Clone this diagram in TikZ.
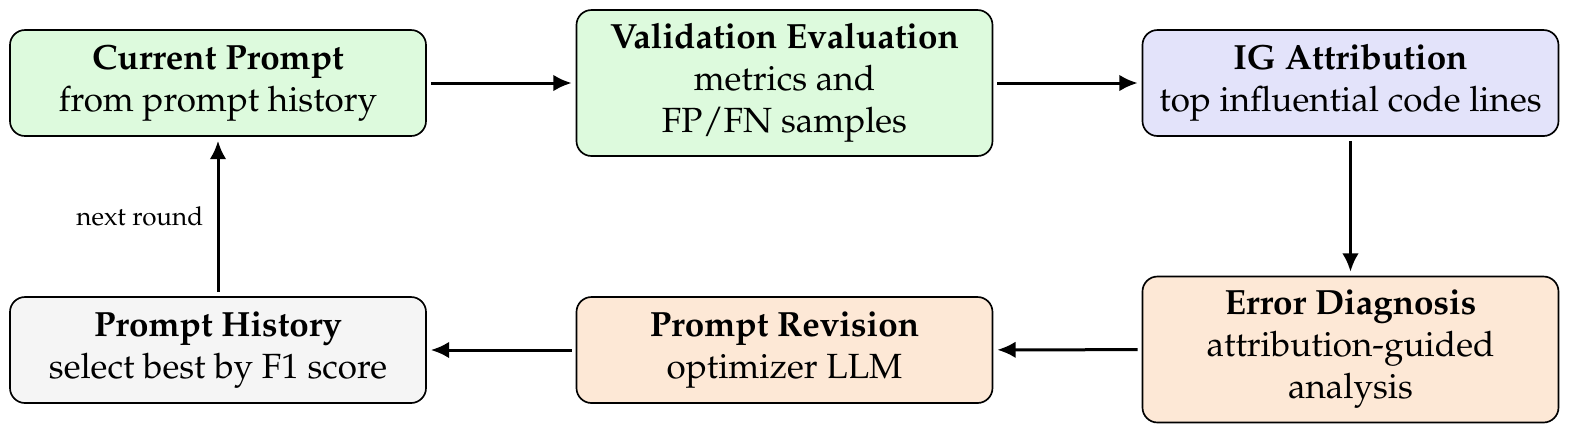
\documentclass[tikz,border=0pt]{standalone}
\usepackage[T1]{fontenc}
\usepackage{mathpazo}
\usetikzlibrary{arrows.meta}
\definecolor{cgreen}{HTML}{DDFADD}
\definecolor{cblue}{HTML}{E3E3FA}
\definecolor{corange}{HTML}{FDE8D6}
\definecolor{cgray}{HTML}{F5F5F5}
\tikzset{
  stage/.style={draw=black, line width=0.5pt, rounded corners=4.5pt, align=center,
    minimum width=124.8pt, inner sep=2pt, font=\fontsize{10.5}{12.6}\selectfont},
  flow/.style={line width=0.9pt, -{Latex[length=5.5pt,width=5pt]}, shorten >=1.2pt, shorten <=1.2pt},
}
\begin{document}
\begin{tikzpicture}[x=0.3pt,y=-0.3pt]
\useasboundingbox (0,0) rectangle (1570,433);
\node[stage, fill=cgreen, minimum height=31.8pt] (cur) at (218,83) {\textbf{Current Prompt}\\from prompt history};
\node[stage, fill=cgreen, minimum height=43.8pt] (val) at (784.5,83) {\textbf{Validation Evaluation}\\metrics and\\FP/FN samples};
\node[stage, fill=cblue, minimum height=31.8pt] (ig) at (1350.5,83) {\textbf{IG Attribution}\\top influential code lines};
\node[stage, fill=corange, minimum height=43.8pt] (err) at (1350.5,349.5) {\textbf{Error Diagnosis}\\attribution-guided\\analysis};
\node[stage, fill=corange, minimum height=31.8pt] (rev) at (784.5,350) {\textbf{Prompt Revision}\\optimizer LLM};
\node[stage, fill=cgray, minimum height=31.8pt] (hist) at (218,350) {\textbf{Prompt History}\\select best by F1 score};
\draw[flow] (cur) -- (val);
\draw[flow] (val) -- (ig);
\draw[flow] (ig) -- (err);
\draw[flow] (err) -- (rev);
\draw[flow] (rev) -- (hist);
\draw[flow] (hist) -- node[left, font=\fontsize{7.8}{9}\selectfont, inner sep=4pt] (lbl) {next round} (cur);
\end{tikzpicture}
\end{document}
